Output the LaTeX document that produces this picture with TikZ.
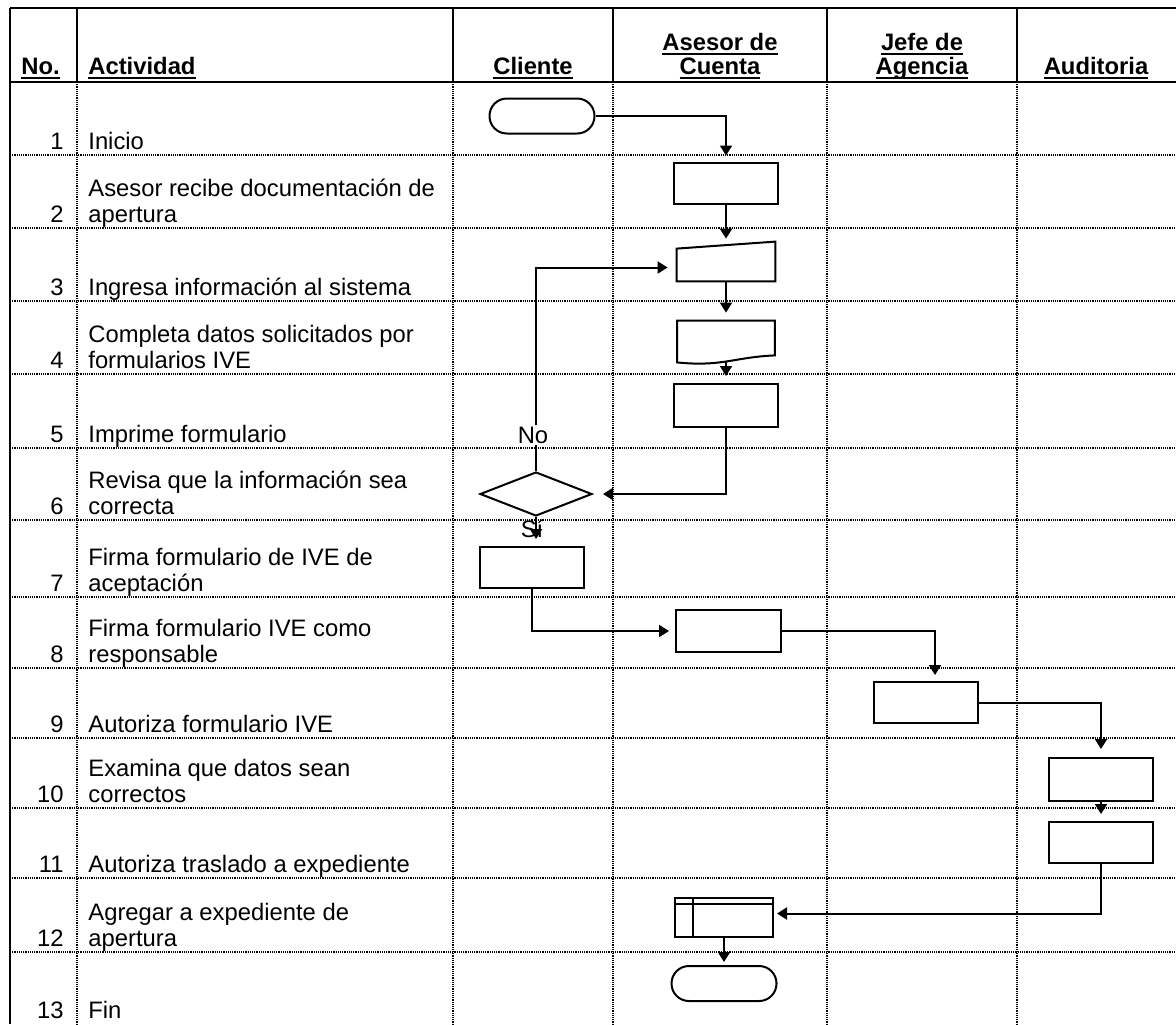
\documentclass[tikz,border=0pt]{standalone}
\usepackage{fontspec}
\setmainfont{Liberation Sans}
\usetikzlibrary{arrows.meta,shapes.geometric}

% thick underline used in the column headings
\newcommand{\hdul}[1]{\setbox0=\hbox{#1}\leavevmode\rlap{\rule[-2.4pt]{\wd0}{1.1pt}}\box0}

\begin{document}
\begin{tikzpicture}[x=0.5pt,y=-0.5pt,
  solidrule/.style={line width=0.8pt},
  dotrule/.style={line width=0.6pt, dash pattern=on 0.6pt off 0.5pt},
  head/.style={font=\fontsize{11.9}{14}\selectfont\bfseries, inner sep=0pt, anchor=base},
  num/.style={font=\fontsize{11.9}{14}\selectfont, inner sep=0pt, anchor=base east},
  txt/.style={font=\fontsize{11.9}{14}\selectfont, inner sep=0pt, anchor=base west},
  lbl/.style={font=\fontsize{11.9}{14}\selectfont, inner sep=0.5pt},
  procbox/.style={draw, line width=1pt, inner sep=0pt, minimum width=52pt, minimum height=20.5pt},
  ghost/.style={inner sep=0pt},
  term/.style={draw, line width=1pt, rounded corners=8.7pt, inner sep=0pt, minimum width=52.5pt, minimum height=17.5pt},
  decide/.style={draw, line width=1pt, diamond, aspect=2.55, inner sep=0pt, minimum width=56pt, minimum height=22pt},
  flow/.style={line width=1pt, -{Triangle[length=5pt,width=6pt]}},
  plain/.style={line width=1pt}
]
\useasboundingbox (0,0) rectangle (1176,1024);

% ---- table frame ----
\draw[solidrule] (10,8) -- (1176,8);
\draw[solidrule] (10,82) -- (1176,82);
\draw[line width=1pt] (10,8) -- (10,1024);
\foreach \x in {77,453,613,827,1017} {
  \draw[line width=0.6pt] (\x,8) -- (\x,82);
  \draw[dotrule] (\x,82) -- (\x,1024);
}
\foreach \y in {155,228,301,374,448,520,597,668,738,808,878,952} {
  \draw[dotrule] (10,\y) -- (1176,\y);
}

% ---- headings ----
\node[head, anchor=base west] (hno) at (21,74) {\hdul{No.}};
\node[head, anchor=base west] (hact) at (88,74) {\hdul{Actividad}};
\node[head] (hcli) at (533,74) {\hdul{Cliente}};
\node[head] (hase1) at (720,50) {\hdul{Asesor de}};
\node[head] (hase2) at (720,74) {\hdul{Cuenta}};
\node[head] (hjef1) at (922,50) {\hdul{Jefe de}};
\node[head] (hjef2) at (922,74) {\hdul{Agencia}};
\node[head] (haud) at (1096,74) {\hdul{Auditoria}};

% ---- activity list ----
\node[num] (n1) at (64,149) {1};
\node[txt] (t1) at (88,149) {Inicio};
\node[txt] (t2a) at (88,196) {Asesor recibe documentación de};
\node[num] (n2) at (64,222) {2};
\node[txt] (t2b) at (88,222) {apertura};
\node[num] (n3) at (64,295) {3};
\node[txt] (t3) at (88,295) {Ingresa información al sistema};
\node[txt] (t4a) at (88,342) {Completa datos solicitados por};
\node[num] (n4) at (64,368) {4};
\node[txt] (t4b) at (88,368) {formularios IVE};
\node[num] (n5) at (64,442) {5};
\node[txt] (t5) at (88,442) {Imprime formulario};
\node[txt] (t6a) at (88,488) {Revisa que la información sea};
\node[num] (n6) at (64,514) {6};
\node[txt] (t6b) at (88,514) {correcta};
\node[txt] (t7a) at (88,565) {Firma formulario de IVE de};
\node[num] (n7) at (64,591) {7};
\node[txt] (t7b) at (88,591) {aceptación};
\node[txt] (t8a) at (88,636) {Firma formulario IVE como};
\node[num] (n8) at (64,662) {8};
\node[txt] (t8b) at (88,662) {responsable};
\node[num] (n9) at (64,732) {9};
\node[txt] (t9) at (88,732) {Autoriza formulario IVE};
\node[txt] (t10a) at (88,776) {Examina que datos sean};
\node[num] (n10) at (64,802) {10};
\node[txt] (t10b) at (88,802) {correctos};
\node[num] (n11) at (64,872) {11};
\node[txt] (t11) at (88,872) {Autoriza traslado a expediente};
\node[txt] (t12a) at (88,920) {Agregar a expediente de};
\node[num] (n12) at (64,946) {12};
\node[txt] (t12b) at (88,946) {apertura};
\node[num] (n13) at (64,1018) {13};
\node[txt] (t13) at (88,1018) {Fin};

% ---- flowchart symbols ----
\node[term] (start) at (542,116) {};
\node[procbox] (b2) at (726,183) {};
% manual input (slanted top)
\node[ghost, minimum width=49pt, minimum height=19.5pt] (b3) at (726,261.5) {};
\draw[plain] (b3.south west) -- (b3.south east) -- (b3.north east)
  -- ([yshift=-3.5pt]b3.north west) -- cycle;
% document (wavy bottom)
\node[ghost, minimum width=48.5pt, minimum height=20.5pt] (b4) at (726,341.5) {};
\draw[plain] (b4.south west) -- (b4.north west) -- (b4.north east)
  -- ([yshift=3.5pt]b4.south east) .. controls (735,357) and (722,367) .. (b4.south west) -- cycle;
\node[procbox, minimum height=21.5pt] (b5) at (726,405.5) {};
\node[decide] (d6) at (536,494) {};
\node[procbox] (b7) at (532,567.5) {};
\node[procbox, minimum width=52.5pt, minimum height=21pt] (b8) at (728.5,631) {};
\node[procbox] (b9) at (926,702.5) {};
\node[procbox, minimum height=21.5pt] (b10) at (1101,779.5) {};
\node[procbox] (b11) at (1101,842.5) {};
% internal storage
\node[procbox, minimum width=49pt, minimum height=19.5pt] (b12) at (724,917.5) {};
\draw[plain] ([yshift=-3.5pt]b12.north west) -- ([yshift=-3.5pt]b12.north east);
\draw[plain] ([xshift=9.5pt]b12.north west) -- ([xshift=9.5pt]b12.south west);
\node[term] (stop) at (724,983.5) {};

% ---- branch labels ----
\node[lbl] (no) at (533,435) {No};
\node[lbl, anchor=base, inner sep=0pt] (si) at (532,537) {Sí};

% ---- connectors ----
\draw[flow, shorten >=3pt] (start.east) -| (b2.north);
\draw[flow, shorten >=1.5pt] (b2.south) -- (b3.north);
\draw[flow, shorten >=4pt] (b3.south) -- (b4.north);
\draw[flow, shorten >=3.5pt] (b4.south) -- (b5.north);
\draw[flow, shorten >=5pt] (b5.south) |- (d6.east);
\draw[plain] (d6.north) -- (d6.north |- no.south);
\draw[flow, shorten >=4.5pt] (d6.north |- no.north) |- ([yshift=-3pt]b3.west);
\draw[flow, shorten >=3.5pt] (d6.south) -- (d6.south |- b7.north);
\draw[flow, shorten >=3pt] (b7.south) |- (b8.west);
\draw[flow, shorten >=3pt] (b8.east) -| ([xshift=4.5pt]b9.north);
\draw[flow, shorten >=4pt] (b9.east) -| (b10.north);
\draw[flow, shorten >=3.5pt] (b10.south) -- (b11.north);
\draw[flow, shorten >=1.5pt] (b11.south) |- ([yshift=2pt]b12.east);
\draw[flow, shorten >=1.5pt] (b12.south) -- (stop.north);
\end{tikzpicture}
\end{document}
